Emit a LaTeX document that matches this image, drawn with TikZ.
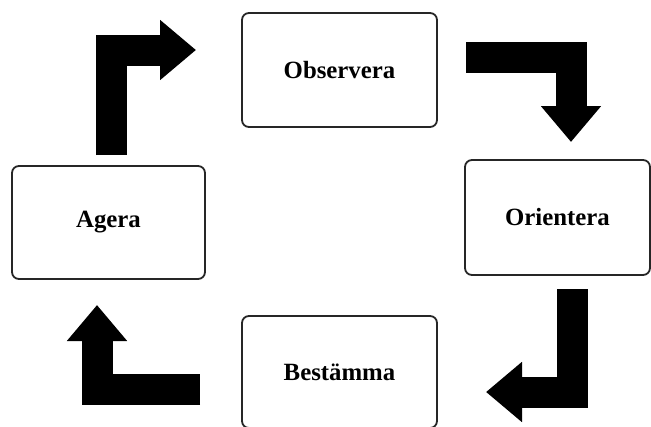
\documentclass[tikz,border=0pt]{standalone}
\usepackage{fontspec}
\setmainfont{Liberation Serif}
\usetikzlibrary{arrows.meta}
\usetikzlibrary{positioning}

\begin{document}
\begin{tikzpicture}
	[x=1pt,y=-1pt,every node/.style={draw=black!85,rounded corners=7pt,line width=1.8pt,inner sep=0pt,font=\fontsize{24.8}{28}\selectfont\bfseries},
	flow/.style={line width=31pt,line join=miter,-{Triangle[length=36pt,width=58pt]}}]
	\useasboundingbox (0,0) rectangle (651,426);
	\node[minimum width=195pt,minimum height=114pt] (obs) at (339.5,70) {Observera};
	\node[minimum width=185pt,minimum height=115pt] (ori) at (557.5,217.5) {Orientera};
	\node[minimum width=195pt,minimum height=112pt] (bes) at (339.5,372) {Bestämma};
	\node[minimum width=193pt,minimum height=113pt] (age) at (108.5,222.5) {Agera};

	\coordinate (age-out) at (111,155);
	\coordinate (obs-in) at (196,50);
	\coordinate (obs-out) at (466,57.5);
	\coordinate (ori-in) at (571,142);
	\coordinate (ori-out) at (572,289);
	\coordinate (bes-in) at (486,392);
	\coordinate (bes-out) at (200,389);
	\coordinate (age-in) at (97,305);

	\foreach \from/\to in {age-out/obs-in, ori-out/bes-in}
	\draw[flow] (\from) |- (\to);
	\foreach \from/\to in {obs-out/ori-in, bes-out/age-in}
	\draw[flow] (\from) -| (\to);
\end{tikzpicture}
\end{document}
